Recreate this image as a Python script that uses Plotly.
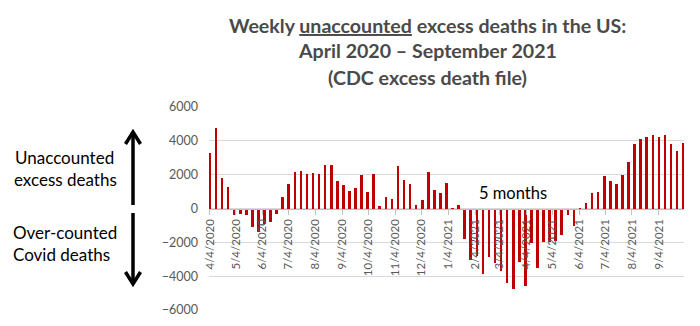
import plotly.graph_objects as go

# ---------------- data ----------------
week_ending = [
    "2020-04-04", "2020-04-11", "2020-04-18", "2020-04-25", "2020-05-02", "2020-05-09",
    "2020-05-16", "2020-05-23", "2020-05-30", "2020-06-06", "2020-06-13", "2020-06-20",
    "2020-06-27", "2020-07-04", "2020-07-11", "2020-07-18", "2020-07-25", "2020-08-01",
    "2020-08-08", "2020-08-15", "2020-08-22", "2020-08-29", "2020-09-05", "2020-09-12",
    "2020-09-19", "2020-09-26", "2020-10-03", "2020-10-10", "2020-10-17", "2020-10-24",
    "2020-10-31", "2020-11-07", "2020-11-14", "2020-11-21", "2020-11-28", "2020-12-05",
    "2020-12-12", "2020-12-19", "2020-12-26",
    "2021-01-02", "2021-01-09", "2021-01-16", "2021-01-23", "2021-01-30", "2021-02-06",
    "2021-02-13", "2021-02-20", "2021-02-27", "2021-03-06", "2021-03-13", "2021-03-20",
    "2021-03-27", "2021-04-03", "2021-04-10", "2021-04-17", "2021-04-24", "2021-05-01",
    "2021-05-08", "2021-05-15", "2021-05-22", "2021-05-29", "2021-06-05", "2021-06-12",
    "2021-06-19", "2021-06-26", "2021-07-03", "2021-07-10", "2021-07-17", "2021-07-24",
    "2021-07-31", "2021-08-07", "2021-08-14", "2021-08-21", "2021-08-28", "2021-09-04",
    "2021-09-11", "2021-09-18", "2021-09-25", "2021-10-02",
]

unaccounted_excess = [
    3300, 4750, 1800, 1250, -400, -350,
    -400, -1100, -1400, -900, -800, -300,
    700, 1450, 2150, 2220, 2060, 2100,
    2060, 2550, 2560, 1630, 1370, 1020,
    1200, 1970, 990, 2060, 160, 690,
    550, 2500, 1710, 1420, 180, 490,
    2180, 1120, 900,
    1500, -80, 200, -1800, -3050, -2800,
    -3900, -2850, -3200, -3700, -4400, -4750,
    -3180, -4600, -2050, -3500, -1980, -2000,
    -1900, -1580, -400, -1040, -100, 300,
    890, 990, 1900, 1630, 1460, 1970,
    2760, 3800, 4120, 4200, 4330, 4200,
    4330, 3800, 3390, 3900,
]

tick_dates = [
    "2020-04-04", "2020-05-04", "2020-06-04", "2020-07-04", "2020-08-04", "2020-09-04",
    "2020-10-04", "2020-11-04", "2020-12-04", "2021-01-04", "2021-02-04", "2021-03-04",
    "2021-04-04", "2021-05-04", "2021-06-04", "2021-07-04", "2021-08-04", "2021-09-04",
]
tick_labels = [
    "4/4/2020", "5/4/2020", "6/4/2020", "7/4/2020", "8/4/2020", "9/4/2020",
    "10/4/2020", "11/4/2020", "12/4/2020", "1/4/2021", "2/4/2021", "3/4/2021",
    "4/4/2021", "5/4/2021", "6/4/2021", "7/4/2021", "8/4/2021", "9/4/2021",
]
y_ticks = [-6000, -4000, -2000, 0, 2000, 4000, 6000]

title_lines = [
    "Weekly <u>unaccounted</u> excess deaths in the US:",
    "April 2020 \u2013 September 2021",
    "(CDC excess death file)",
]

# ---------------- layout geometry ----------------
W, H = 700, 326
L, R, T, B = 209, 684, 107, 310
PW, PH = R - L, B - T


def px(x):
    return (x - L) / PW


def py(y):
    return (B - y) / PH


FONT = "Lato, 'Open Sans', sans-serif"
GREY = "#595959"

fig = go.Figure()
fig.add_trace(go.Bar(
    x=week_ending,
    y=unaccounted_excess,
    marker=dict(color="#c00000", line=dict(width=0)),
    width=3 * 86400000,
))

annotations = []
for i, (line, yc) in enumerate(zip(title_lines, [25, 51, 77])):
    annotations.append(dict(
        text="<b>" + line + "</b>", xref="paper", yref="paper",
        x=px(427.5), y=py(yc), xanchor="center", yanchor="middle",
        showarrow=False, font=dict(family=FONT, size=19.6, color="#4a4a4a"),
    ))

side_font = dict(family=FONT, size=17, color="#000000")
annotations += [
    dict(text="Unaccounted", x=px(64), y=py(157), xanchor="center"),
    dict(text="excess deaths", x=px(65), y=py(179), xanchor="center"),
    dict(text="Over-counted", x=px(11), y=py(232), xanchor="left"),
    dict(text="Covid deaths", x=px(11), y=py(254), xanchor="left"),
]
for a in annotations[3:]:
    a.update(xref="paper", yref="paper", yanchor="middle", showarrow=False, font=side_font)
annotations.append(dict(text="5 months", x=px(512.5), y=py(193), xanchor="center",
                        xref="paper", yref="paper", yanchor="middle", showarrow=False,
                        font=dict(family=FONT, size=16.5, color="#000000")))

shapes = []
ax = 133
# upper arrow
shapes.append(dict(type="line", xref="paper", yref="paper",
                   x0=px(ax), x1=px(ax), y0=py(134), y1=py(205),
                   line=dict(color="black", width=3.5)))
shapes.append(dict(type="path", xref="paper", yref="paper",
                   path=f"M {px(ax-7.5)},{py(144)} L {px(ax)},{py(132)} L {px(ax+7.5)},{py(144)}",
                   line=dict(color="black", width=3.5)))
# lower arrow
shapes.append(dict(type="line", xref="paper", yref="paper",
                   x0=px(ax), x1=px(ax), y0=py(213), y1=py(283),
                   line=dict(color="black", width=3.5)))
shapes.append(dict(type="path", xref="paper", yref="paper",
                   path=f"M {px(ax-7.5)},{py(272)} L {px(ax)},{py(284)} L {px(ax+7.5)},{py(272)}",
                   line=dict(color="black", width=3.5)))

fig.update_layout(
    width=W, height=H,
    margin=dict(l=L, r=W - R, t=T, b=H - B, pad=0),
    plot_bgcolor="white", paper_bgcolor="white",
    showlegend=False,
    bargap=0,
    annotations=annotations,
    shapes=shapes,
    xaxis=dict(
        type="date",
        range=["2020-04-03", "2021-10-03"],
        tickvals=tick_dates, ticktext=tick_labels,
        tickangle=-90,
        tickfont=dict(family=FONT, size=11.5, color=GREY),
        ticks="outside", ticklen=5, tickcolor="#bfbfbf", tickwidth=1,
        showline=True, linecolor="#bfbfbf", linewidth=1,
        showgrid=False, zeroline=False,
        anchor="free", position=0.5,
        automargin=False,
    ),
    yaxis=dict(
        range=[-6000, 6000],
        tickvals=y_ticks,
        tickfont=dict(family=FONT, size=12.5, color=GREY),
        showgrid=True, gridcolor="#d9d9d9", gridwidth=1,
        zeroline=False, showline=False, ticks="",
        ticklabelstandoff=10,
        automargin=False,
    ),
)

fig.write_html("out.html")
